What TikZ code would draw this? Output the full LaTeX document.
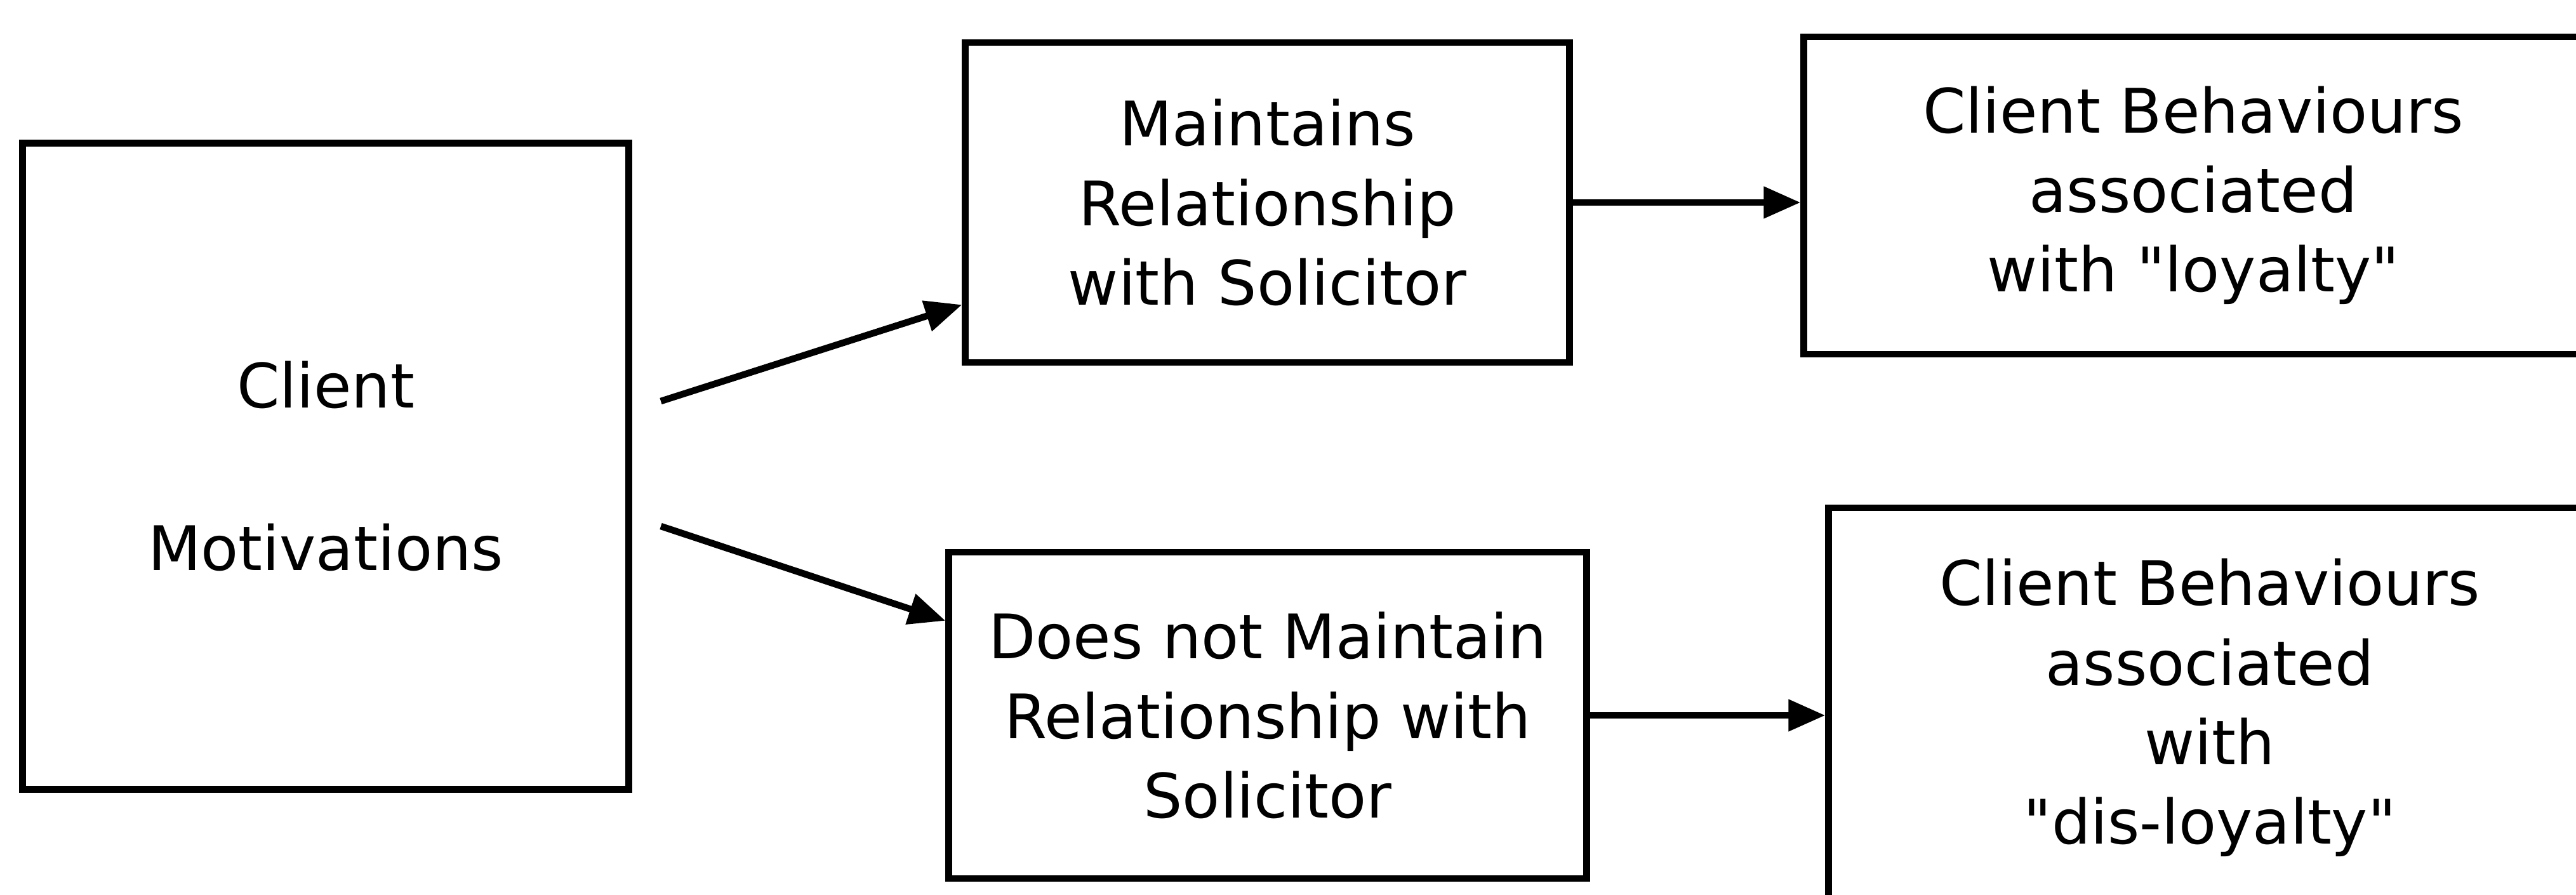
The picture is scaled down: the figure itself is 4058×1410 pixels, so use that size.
\documentclass[tikz,border=0pt]{standalone}
\usepackage{fontspec}
\setmainfont{DejaVu Sans}
\usetikzlibrary{arrows.meta,calc}
\begin{document}
\begin{tikzpicture}[x=0.01cm,y=-0.01cm,
  box/.style={draw=black,line width=3pt,align=center,inner sep=0pt,
    font=\fontsize{27.5}{35.6}\selectfont},
  conn/.style={line width=3pt,-{Triangle[length=0.58cm,width=0.48cm]}}]
\useasboundingbox (0,0) rectangle (4058,1410);
\fill[white] (0,0) rectangle (4058,1410);
\node[box,minimum width=9.54cm,minimum height=10.17cm] (cm) at (513,734.5) {Client\\[1.3cm]Motivations};
\node[box,minimum width=9.51cm,minimum height=5.04cm] (mt) at (1996.5,319) {Maintains\\Relationship\\with Solicitor};
\node[box,minimum width=10.04cm,minimum height=5.14cm] (dn) at (1997,1127) {Does not Maintain\\Relationship with\\Solicitor};
\node[box,minimum width=12.26cm,minimum height=5.00cm] (loy) at (3455,308) {Client Behaviours\\associated\\with \textquotedbl loyalty\textquotedbl};
\node[box,minimum width=12.0cm,minimum height=6.30cm] (dis) at (3481,1115) {Client Behaviours\\associated\\with\\\textquotedbl dis-loyalty\textquotedbl};
\coordinate (s1) at (1041,632);
\coordinate (s2) at (1041,829);
\draw[conn] (s1) -- ([yshift=-1.61cm]mt.west);
\draw[conn] (s2) -- ([yshift=1.49cm]dn.west);
\draw[conn] (mt.east) -- (mt.east -| loy.west);
\draw[conn] (dn.east) -- (dn.east -| dis.west);
\end{tikzpicture}
\end{document}
